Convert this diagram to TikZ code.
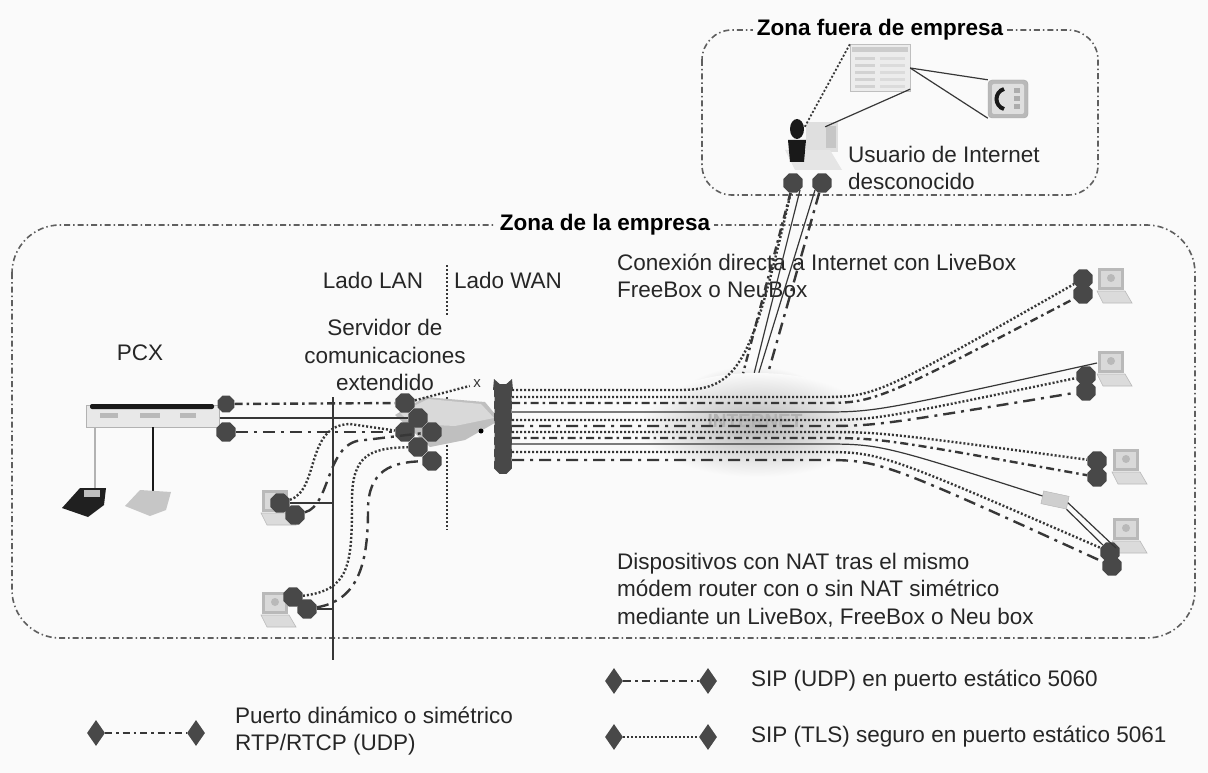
\documentclass[tikz,border=0pt]{standalone}
\usepackage{fontspec}
\setmainfont{Liberation Sans}
\usetikzlibrary{shapes.geometric}
\definecolor{bg}{RGB}{250,250,250}
\definecolor{ink}{RGB}{55,55,55}
\definecolor{portc}{RGB}{72,72,72}
\definecolor{zonec}{RGB}{95,95,95}
\tikzset{
  zone/.style={draw=zonec, line width=1.6pt, dash pattern=on 6pt off 3pt on 1.5pt off 3pt, rounded corners=48pt},
  zonetitle/.style={fill=bg, inner sep=4pt, font=\bfseries\fontsize{22.5}{26}\selectfont},
  lbl/.style={inner sep=0pt, font=\fontsize{22.5}{27.5}\selectfont, text=black!85},
  port/.style={regular polygon, regular polygon sides=8, minimum size=21pt, inner sep=0pt, fill=portc, draw=none},
  lport/.style={diamond, minimum width=18pt, minimum height=26pt, inner sep=0pt, fill=portc},
  tls/.style={draw=ink, line width=2.4pt, dash pattern=on 2pt off 2pt},
  udp/.style={draw=ink, line width=2.4pt, dash pattern=on 8pt off 4pt on 2.5pt off 4pt},
  rtp/.style={draw=ink, line width=2.4pt, dash pattern=on 12pt off 6pt on 3pt off 6pt},
  wire/.style={draw=ink, line width=1.2pt},
  laptop/.pic={
    \fill[gray!55] (0,0) rectangle (26,22);
    \fill[gray!30] (3,3) rectangle (23,19);
    \fill[gray!55] (13,10) circle (4);
    \filldraw[fill=gray!28, draw=gray!55, line width=0.6pt] (-1,23) -- (27,23) -- (34,35) -- (5,35) -- cycle;
    \coordinate (-l) at (-1,12);
    \coordinate (-w) at (3,30);
  }
}
\begin{document}
\begin{tikzpicture}[x=1pt, y=-1pt]
  \fill[bg] (0,0) rectangle (1208,773);
  \useasboundingbox (0,0) rectangle (1208,773);

  % zones
  \draw[zone] (12,225) rectangle (1195,638);
  \draw[zone, rounded corners=30pt] (702,30) rectangle (1098,195);
  \node[zonetitle] (tzona) at (605,225) {Zona de la empresa};
  \node[zonetitle] (tfuera) at (880,30) {Zona fuera de empresa};

  % internet cloud
  \shade[inner color=gray!62, outer color=bg] (752,402) ellipse (75 and 36);
  \node[ellipse, minimum width=236pt, minimum height=104pt, inner sep=0pt,
        shading=radial, inner color=gray!58, outer color=bg] (inet) at (757,425) {};
  \node[font=\bfseries\fontsize{19}{19}\selectfont, text=gray!60] (inettxt) at (755,421) {INTERNET};

  % labels
  \node[lbl] (lanl) at (373,280) {Lado LAN};
  \node[lbl] (wanl) at (508,280) {Lado WAN};
  \draw[tls, line width=2pt] (447,265) -- (447,315);
  \draw[tls, line width=2pt] (447,397) -- (447,530);
  \node[lbl, align=center] (srvl) at (385,355) {Servidor de\\comunicaciones\\extendido};
  \node[lbl] (pcxl) at (140,353) {PCX};
  \node[lbl, align=left, anchor=west] (conl) at (617,276) {Conexión directa a Internet con LiveBox\\FreeBox o NeuBox};
  \node[lbl, align=left, anchor=west] (natl) at (617,590) {Dispositivos con NAT tras el mismo\\módem router con o sin NAT simétrico\\mediante un LiveBox, FreeBox o Neu box};
  \node[lbl, align=left, anchor=west] (usrl) at (848,168) {Usuario de Internet\\desconocido};

  % PCX and its phones
  \node[draw=gray!60, fill=gray!18, minimum width=133pt, minimum height=22pt, inner sep=0pt] (pcx) at (153,416) {};
  \fill[gray!20!black, rounded corners=2pt] (90,404) rectangle (214,409);
  \fill[gray!55] (100,413) rectangle (118,418);
  \fill[gray!55] (140,413) rectangle (160,418);
  \fill[gray!55] (180,413) rectangle (196,418);
  \coordinate (tel1) at (95,490);
  \coordinate (tel2) at (153,492);
  \draw[wire, draw=gray!60] (pcx.south -| tel1) -- (tel1);
  \draw[wire, draw=gray!20!black, line width=1.8pt] (pcx.south -| tel2) -- (tel2);
  \fill[gray!25!black] (62,508) -- (80,488) -- (106,488) -- (104,505) -- (88,517) -- cycle;
  \fill[gray!50] (84,490) rectangle (100,497);
  \fill[gray!45] (125,506) -- (140,490) -- (171,492) -- (166,510) -- (150,516) -- cycle;

  % LAN bus
  \coordinate (busT) at (333,397);
  \coordinate (busB) at (333,660);
  \draw[wire] (busT) -- (busB);

  % LAN laptops
  \pic (ll1) at (262,490) {laptop};
  \pic (ll2) at (262,592) {laptop};

  % extended communication server
  \fill[gray!50] (395,415) -- (425,397) -- (485,402) -- (500,420) -- (465,440) -- (430,447) -- cycle;
  \fill[gray!30] (400,413) -- (428,399) -- (481,404) -- (494,418) -- (455,426) -- (412,424) -- cycle;
  \fill[black] (481,431) circle (2.5);
  \node[inner sep=0pt, minimum size=2pt] (srv) at (447,422) {};

  % WAN side connector bar
  \node[fill=portc, rounded corners=6pt, minimum width=17pt, minimum height=86pt, inner sep=0pt] (wan) at (503,427) {};
  \foreach \yy in {393,405,...,465} \node[port, minimum size=19pt] at (503,\yy) {};
  \fill[portc] (493,390) -- (494,379) -- (503,387) -- cycle;
  \fill[portc] (513,390) -- (512,379) -- (503,387) -- cycle;
  \node[font=\fontsize{15}{15}\selectfont, text=ink] (xm) at (477,384) {x};

  % internet user, soft client and phone
  \node[draw=gray!50, fill=gray!15, minimum width=60pt, minimum height=47pt, inner sep=0pt] (win) at (880,68) {};
  \fill[gray!40] (852,47) rectangle (908,52);
  \foreach \yy in {57,64,71,78,85} {
    \fill[gray!35] (855,\yy) rectangle (875,\yy+3);
    \fill[gray!28] (880,\yy) rectangle (905,\yy+3);
  }
  \node[fill=gray!55, draw=gray!70, rounded corners=4pt, minimum width=40pt, minimum height=38pt, inner sep=0pt] (tel) at (1008,99) {};
  \fill[gray!25, rounded corners=2pt] (992,84) rectangle (1024,114);
  \draw[gray!20!black, line width=4pt] (1004,89) .. controls (994,92) and (994,106) .. (1004,109);
  \foreach \yy in {88,96,104} \fill[gray!65] (1014,\yy) rectangle (1020,\yy+5);
  \fill[gray!25] (806,122) rectangle (838,152);
  \fill[gray!45] (826,126) rectangle (836,148);
  \fill[gray!20] (785,150) -- (830,150) -- (842,170) -- (795,170) -- cycle;
  \fill[gray!20!black] (797,129) ellipse (7 and 10);
  \fill[gray!20!black] (788,140) -- (806,140) -- (804,162) -- (790,162) -- cycle;
  \node[minimum width=20pt, minimum height=46pt, inner sep=0pt] (user) at (815,150) {};
  \draw[tls, line width=1.8pt] (win.north west) -- (user.north west);
  \draw[wire] (win.-35) -- (user.north east);
  \draw[wire] (win.east) -- (tel.north west);
  \draw[wire] (win.east) -- (tel.south west);

  % remote devices
  \pic (lr1) at (1098,268) {laptop};
  \pic (lr2) at (1098,351) {laptop};
  \pic (lr3) at (1113,449) {laptop};
  \pic (lr4) at (1113,518) {laptop};
  \node[draw=gray!60, fill=gray!38, minimum width=26pt, minimum height=13pt, inner sep=0pt, rotate=-12] (rtr) at (1055,500) {};

  % ports
  \node[port, minimum size=18pt] (p1) at (226,404) {};
  \node[port] (p2) at (226,432) {};
  \node[port] (s1) at (405,403) {};
  \node[port] (s2) at (418,418) {};
  \node[port] (s3) at (405,432) {};
  \node[port] (s4) at (432,432) {};
  \node[port] (s5) at (418,447) {};
  \node[port] (s6) at (432,461) {};
  \node[port] (l1a) at (280,503) {};
  \node[port] (l1b) at (295,515) {};
  \node[port] (l2a) at (293,597) {};
  \node[port] (l2b) at (307,609) {};
  \node[port] (u1) at (793,183) {};
  \node[port] (u2) at (822,183) {};
  \node[port] (r1a) at (1083,279) {};
  \node[port] (r1b) at (1083,294) {};
  \node[port] (r2a) at (1086,376) {};
  \node[port] (r2b) at (1086,391) {};
  \node[port] (r3a) at (1097,461) {};
  \node[port] (r3b) at (1097,477) {};
  \node[port] (r4a) at (1110,552) {};
  \node[port] (r4b) at (1112,566) {};

  % LAN side links
  \draw[udp] (p1) -- (s1);
  \draw[wire] (pcx.east |- s2) -- (s2);
  \draw[rtp] (p2) -- (s3);
  \draw[wire] (l1a) -- (l1a -| busT);
  \draw[wire] (l2b) -- (l2b -| busT);
  \draw[tls] (l1a) .. controls (320,490) and (305,425) .. (350,424) -- (s3);
  \draw[rtp] (l1b) .. controls (332,505) and (325,440) .. (365,440) -- (s4);
  \draw[tls] (l2a) .. controls (350,590) and (352,565) .. (352,500) .. controls (352,455) and (370,448) .. (s5);
  \draw[rtp] (l2b) .. controls (360,600) and (368,560) .. (368,510) .. controls (368,470) and (392,462) .. (s6);
  \draw[tls] (s1) -- (xm);

  % WAN side lanes
  \coordinate (wk) at (512,390);
  \coordinate (wa) at (512,397);
  \coordinate (wb) at (512,403);
  \coordinate (wc) at (512,412);
  \coordinate (wd) at (512,420);
  \coordinate (we) at (512,426);
  \coordinate (wf) at (512,432);
  \coordinate (wg) at (512,438);
  \coordinate (wh) at (512,444);
  \coordinate (wi) at (512,452);
  \coordinate (wj) at (512,460);
  \draw[tls] (wk) -- (680,390) .. controls (740,390) and (752,362) .. (u1);
  \draw[udp] (u1) -- (inet.105);
  \draw[wire] (u1.south east) -- (inet.93);
  \draw[wire] (u2.south west) -- (inet.88);
  \draw[rtp] (u2) -- (inet.78);
  \draw[tls] (wa) -- (820,397) .. controls (875,397) .. (r1a);
  \draw[udp] (wb) -- (820,403) .. controls (875,403) .. (r1b);
  \draw[wire] (wc) -- (820,412) .. controls (875,412) .. (lr2-l);
  \draw[tls] (wd) -- (820,420) .. controls (875,420) .. (r2a);
  \draw[rtp] (we) -- (820,426) .. controls (875,426) .. (r2b);
  \draw[tls] (wf) -- (820,432) .. controls (880,432) .. (r3a);
  \draw[udp] (wg) -- (820,438) .. controls (880,438) .. (r3b);
  \draw[wire] (wh) -- (820,444) .. controls (880,444) .. (rtr);
  \draw[tls] (wi) -- (820,452) .. controls (880,452) .. (r4a);
  \draw[rtp] (wj) -- (820,460) .. controls (880,460) .. (r4b);
  \draw[wire] (rtr.east) -- (lr4-w);
  \draw[wire] (rtr.south east) -- (r4a);

  % legend
  \node[lport] (la1) at (614,681) {};
  \node[lport] (la2) at (708,681) {};
  \draw[udp, line width=2pt] (la1) -- (la2);
  \node[lport] (lb1) at (614,737) {};
  \node[lport] (lb2) at (708,737) {};
  \draw[tls, line width=2pt] (lb1) -- (lb2);
  \node[lport] (lc1) at (96,733) {};
  \node[lport] (lc2) at (196,733) {};
  \draw[rtp, line width=2pt, dash pattern=on 7pt off 4pt on 2.5pt off 4pt] (lc1) -- (lc2);
  \node[lbl, anchor=west] (leg1) at (751,681) {SIP (UDP) en puerto estático 5060};
  \node[lbl, anchor=west] (leg2) at (751,737) {SIP (TLS) seguro en puerto estático 5061};
  \node[lbl, align=left, anchor=west] (leg3) at (235,731) {Puerto dinámico o simétrico\\RTP/RTCP (UDP)};
\end{tikzpicture}
\end{document}
